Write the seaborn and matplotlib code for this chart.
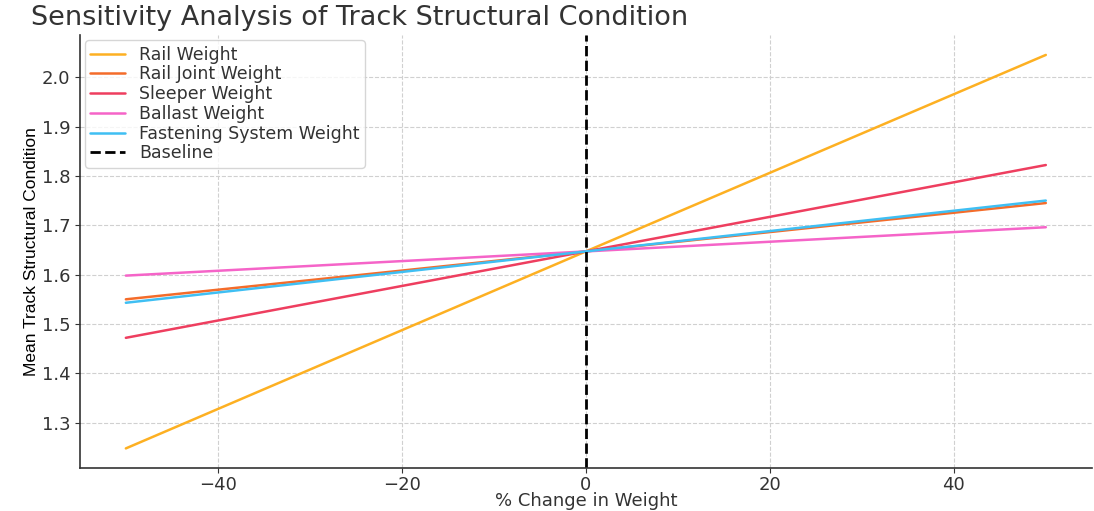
import numpy as np
import pandas as pd
import matplotlib
matplotlib.use("Agg")
import matplotlib.pyplot as plt
import seaborn as sns

# ── Data ──────────────────────────────────────────────────────────────────────
pct_change = [-50, 0, 50]
rail_weight       = [1.248, 1.647, 2.045]
rail_joint_weight = [1.550, 1.647, 1.745]
sleeper_weight    = [1.472, 1.647, 1.822]
ballast_weight    = [1.598, 1.647, 1.696]
fastening_weight  = [1.543, 1.647, 1.750]

series_names = ["Rail Weight", "Rail Joint Weight", "Sleeper Weight",
                "Ballast Weight", "Fastening System Weight"]
series_vals = [rail_weight, rail_joint_weight, sleeper_weight,
               ballast_weight, fastening_weight]
colors = ["#FDB022", "#F46C2A", "#EE3E5F", "#F564C8", "#3FBFF3"]

df = pd.DataFrame([
    {"pct": x, "value": v, "component": name}
    for name, vals in zip(series_names, series_vals)
    for x, v in zip(pct_change, vals)
])

# ── Style ─────────────────────────────────────────────────────────────────────
sns.set_style("ticks")
plt.rcParams["font.family"] = ["DejaVu Sans"]
narrow = "Liberation Sans"

fig = plt.figure(figsize=(10.94, 5.11), dpi=100)
ax = fig.add_axes([0.073, 0.084, 0.925, 0.847])

sns.lineplot(data=df, x="pct", y="value", hue="component",
             hue_order=series_names, palette=colors, linewidth=1.8, ax=ax)
ax.axvline(0, color="black", linestyle="--", linewidth=2, label="Baseline")

ax.grid(True, linestyle="--", color="#d0d0d0", linewidth=0.8)
ax.set_axisbelow(True)
for side in ("top", "right"):
    ax.spines[side].set_visible(False)
for side in ("left", "bottom"):
    ax.spines[side].set_color("#333333")
    ax.spines[side].set_linewidth(1.2)

ax.set_xticks([-40, -20, 0, 20, 40])
ax.tick_params(colors="#333333", labelsize=13)
ax.tick_params(axis="x", pad=2)

ax.set_xlabel("% Change in Weight", fontsize=13, color="#333333")
ax.xaxis.set_label_coords(0.5, -0.056)
ax.set_ylabel("Mean Track Structural Condition", fontsize=12.5, color="black",
              family=narrow, labelpad=2)

handles, labels = ax.get_legend_handles_labels()
ax.legend(handles, labels, loc="upper left", fontsize=12.5, frameon=True,
          borderaxespad=0.3, labelspacing=0.1, borderpad=0.3,
          labelcolor="#333333")

fig.text(31 / 1094, 1 - 18 / 511, "Sensitivity Analysis of Track Structural Condition",
         fontsize=19.5, color="#333333", va="center", ha="left")

fig.savefig("out.png", dpi=100)
